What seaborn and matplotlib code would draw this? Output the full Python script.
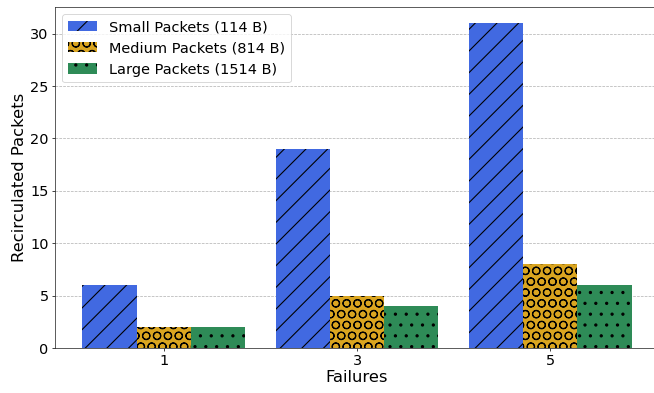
import matplotlib
matplotlib.use("Agg")
import matplotlib.pyplot as plt
import seaborn as sns
import pandas as pd

failures = ["1", "3", "5"]
series_names = ["Small Packets (114 B)", "Medium Packets (814 B)", "Large Packets (1514 B)"]
small = [6, 19, 31]
medium = [2, 5, 8]
large = [2, 4, 6]

colors = ["#4169E1", "#DAA520", "#2E8B57"]
hatches = ["/", "O", "."]

rows = []
for name, vals in zip(series_names, [small, medium, large]):
    for f, v in zip(failures, vals):
        rows.append({"Failures": f, "Packets": v, "Type": name})
df = pd.DataFrame(rows)

sns.set_style("ticks")
plt.rcParams["font.family"] = ["DejaVu Sans"]
plt.rcParams["hatch.linewidth"] = 1.2
for key in ("text.color", "axes.labelcolor", "xtick.color", "ytick.color", "axes.edgecolor"):
    plt.rcParams[key] = "black"

DPI = 65.4
fig = plt.figure(figsize=(654 / DPI, 393 / DPI), dpi=DPI)
ax = fig.add_axes([55 / 654, 1 - 348 / 393, (659 - 55) / 654, (348 - 7) / 393])

sns.barplot(data=df, x="Failures", y="Packets", hue="Type", order=failures,
            hue_order=series_names, palette=colors, saturation=1, width=0.84, gap=0,
            edgecolor="black", linewidth=0, errorbar=None, ax=ax)

for container, h in zip(ax.containers, hatches):
    for bar in container:
        bar.set_hatch(h)
        bar.set_edgecolor("black")
        bar.set_linewidth(0)

ax.set_xlim(-0.42 - 0.142, 2.42 + 0.142)
ax.set_ylim(0, 32.55)
ax.set_xlabel("Failures", fontsize=18, labelpad=2)
ax.set_ylabel("Recirculated Packets", fontsize=18)
ax.tick_params(labelsize=16, colors="black")
ax.yaxis.grid(True, linestyle="--", color="gray", alpha=0.6, linewidth=0.8)
ax.set_axisbelow(True)
for s in ax.spines.values():
    s.set_visible(True)
    s.set_color("#222222")

handles, labels = ax.get_legend_handles_labels()
for hd, h in zip(handles, hatches):
    hd.set_hatch(h)
    hd.set_edgecolor("black")
    hd.set_linewidth(0)
ax.legend(handles, labels, loc="upper left", fontsize=16, title=None)

fig.savefig("out.png", dpi=DPI)
